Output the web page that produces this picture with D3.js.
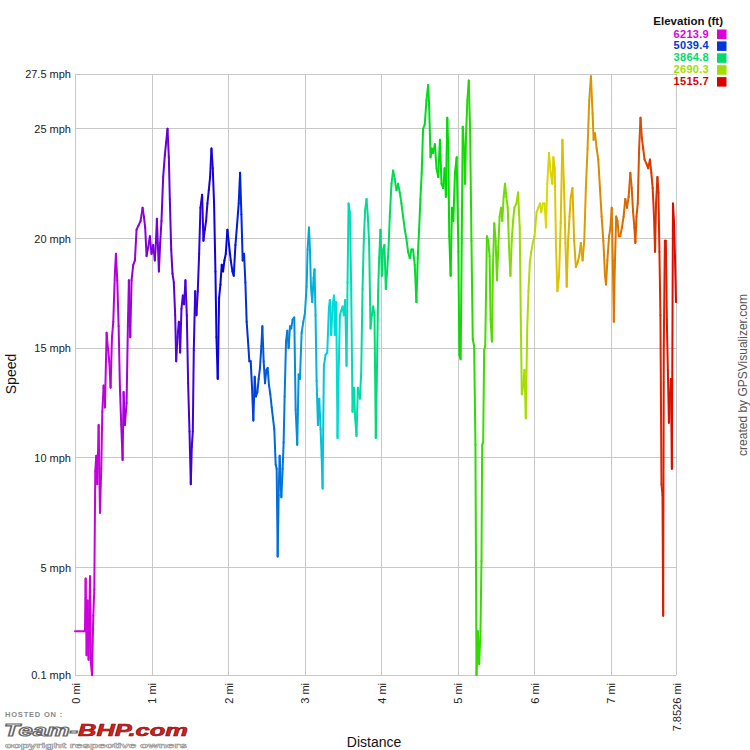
<!DOCTYPE html>
<html>
<head>
<meta charset="utf-8">
<script src="https://cdn.jsdelivr.net/npm/d3@7"></script>
<style>
  html, body { margin: 0; padding: 0; background: #fff; }
  svg { display: block; font-family: "Liberation Sans", Arial, Helvetica, sans-serif; }
</style>
</head>
<body>
<svg id="chart" width="750" height="750"></svg>
<script>
// ---------------- DATA ----------------
const distanceMi = [
  0, 0.13, 0.139, 0.152, 0.165, 0.178, 0.196, 0.209, 0.222, 0.239, 0.252, 0.265, 0.278, 0.291, 0.309, 0.326, 0.343, 0.357,
  0.374, 0.391, 0.413, 0.430, 0.448, 0.465, 0.483, 0.500, 0.522, 0.535, 0.552, 0.570, 0.587, 0.604, 0.622, 0.635, 0.652,
  0.674, 0.691, 0.704, 0.722, 0.739, 0.761, 0.783, 0.804, 0.830, 0.857, 0.883, 0.900, 0.917, 0.935, 0.957, 0.978, 1.0,
  1.022, 1.043, 1.057, 1.07, 1.083, 1.096, 1.113, 1.130, 1.152, 1.174, 1.191, 1.209, 1.226, 1.239, 1.257, 1.274, 1.291,
  1.309, 1.322, 1.339, 1.357, 1.374, 1.391, 1.409, 1.426, 1.443, 1.461, 1.478, 1.496, 1.513, 1.526, 1.539, 1.552, 1.570,
  1.587, 1.604, 1.622, 1.639, 1.661, 1.678, 1.696, 1.713, 1.730, 1.748, 1.765, 1.783, 1.800, 1.817, 1.835, 1.848, 1.865,
  1.883, 1.900, 1.917, 1.935, 1.952, 1.970, 1.991, 2.013, 2.035, 2.057, 2.074, 2.096, 2.117, 2.139, 2.157, 2.174, 2.191,
  2.209, 2.226, 2.243, 2.261, 2.278, 2.296, 2.313, 2.330, 2.348, 2.365, 2.383, 2.400, 2.417, 2.435, 2.448, 2.465, 2.483,
  2.500, 2.517, 2.535, 2.552, 2.570, 2.587, 2.604, 2.622, 2.635, 2.648, 2.661, 2.674, 2.696, 2.713, 2.726, 2.739, 2.757,
  2.774, 2.791, 2.809, 2.826, 2.843, 2.865, 2.883, 2.904, 2.922, 2.939, 2.961, 2.983, 3.004, 3.026, 3.039, 3.057, 3.070,
  3.083, 3.100, 3.117, 3.130, 3.143, 3.157, 3.174, 3.191, 3.209, 3.222, 3.235, 3.252, 3.274, 3.296, 3.317, 3.330, 3.348,
  3.365, 3.383, 3.396, 3.413, 3.430, 3.443, 3.461, 3.478, 3.496, 3.513, 3.530, 3.548, 3.561, 3.574, 3.591, 3.609, 3.626,
  3.643, 3.661, 3.678, 3.696, 3.722, 3.739, 3.757, 3.774, 3.791, 3.809, 3.826, 3.843, 3.861, 3.878, 3.896, 3.913, 3.930,
  3.943, 3.961, 3.974, 3.991, 4.009, 4.026, 4.043, 4.061, 4.078, 4.096, 4.113, 4.135, 4.157, 4.178, 4.200, 4.222, 4.243,
  4.265, 4.287, 4.309, 4.330, 4.352, 4.374, 4.396, 4.417, 4.439, 4.461, 4.478, 4.496, 4.513, 4.530, 4.548, 4.570, 4.592,
  4.614, 4.627, 4.645, 4.662, 4.680, 4.702, 4.724, 4.746, 4.768, 4.789, 4.811, 4.829, 4.846, 4.864, 4.877, 4.890, 4.908,
  4.925, 4.943, 4.965, 4.987, 5.009, 5.022, 5.039, 5.053, 5.066, 5.083, 5.096, 5.110, 5.127, 5.145, 5.162, 5.180, 5.197,
  5.215, 5.232, 5.246, 5.263, 5.281, 5.298, 5.311, 5.320, 5.333, 5.346, 5.360, 5.382, 5.399, 5.417, 5.430, 5.447, 5.461,
  5.478, 5.496, 5.513, 5.531, 5.548, 5.566, 5.583, 5.601, 5.618, 5.636, 5.654, 5.671, 5.689, 5.706, 5.724, 5.741, 5.768,
  5.789, 5.811, 5.825, 5.838, 5.855, 5.873, 5.890, 5.908, 5.925, 5.943, 5.961, 5.982, 6.004, 6.031, 6.053, 6.075, 6.092,
  6.114, 6.136, 6.154, 6.171, 6.193, 6.215, 6.237, 6.250, 6.268, 6.285, 6.303, 6.325, 6.346, 6.368, 6.390, 6.408, 6.425,
  6.443, 6.461, 6.478, 6.500, 6.522, 6.544, 6.566, 6.588, 6.610, 6.632, 6.654, 6.675, 6.697, 6.719, 6.741, 6.763, 6.776,
  6.794, 6.816, 6.837, 6.859, 6.881, 6.903, 6.925, 6.938, 6.956, 6.978, 6.996, 7.013, 7.027, 7.040, 7.053, 7.071, 7.088,
  7.106, 7.124, 7.146, 7.168, 7.190, 7.212, 7.234, 7.256, 7.274, 7.292, 7.309, 7.322, 7.336, 7.353, 7.371, 7.389, 7.406,
  7.424, 7.442, 7.468, 7.490, 7.512, 7.530, 7.548, 7.565, 7.579, 7.592, 7.610, 7.623, 7.636, 7.649, 7.663, 7.676, 7.685,
  7.693, 7.707, 7.720, 7.733, 7.746, 7.760, 7.773, 7.786, 7.799, 7.813, 7.826, 7.839, 7.8526
];
const speedMph = [
  2.1, 2.1, 4.5, 1.0, 3.5, 0.8, 4.6, 0.6, 0.1, 2.8, 4.0, 9.4, 10.1, 8.8, 11.5, 7.5, 9.5, 12.1,
  13.3, 12.3, 15.7, 15.0, 14.4, 13.2, 15.5, 16.2, 18.5, 19.3, 18.1, 16.0, 13.2, 11.5, 9.9, 13.0, 11.5,
  12.5, 16.0, 18.1, 15.5, 18.1, 18.8, 19.0, 20.4, 20.6, 20.8, 21.4, 21.0, 20.5, 19.2, 19.6, 20.1, 19.3,
  19.7, 19.0, 19.8, 20.9, 19.7, 18.5, 19.8, 20.8, 22.8, 23.8, 24.4, 25.0, 23.7, 21.8, 19.5, 18.4, 18.0,
  16.5, 14.4, 15.5, 16.2, 14.8, 16.8, 17.4, 17.0, 18.1, 16.5, 13.4, 11.2, 8.8, 10.5, 11.2, 14.9, 17.6,
  16.5, 17.6, 19.3, 21.4, 22.0, 19.9, 20.4, 20.8, 21.6, 22.2, 22.8, 24.1, 23.2, 21.6, 18.5, 15.5, 13.6,
  17.3, 17.9, 18.8, 18.5, 19.0, 19.3, 20.4, 19.7, 19.0, 18.5, 18.3, 19.7, 20.6, 21.6, 23.0, 21.1, 19.0,
  19.3, 18.0, 16.2, 15.3, 14.4, 14.4, 13.2, 11.7, 13.7, 12.8, 13.0, 13.6, 14.1, 15.1, 16.0, 14.4, 13.4,
  14.0, 14.1, 13.3, 12.9, 12.3, 11.8, 11.3, 9.7, 9.5, 5.5, 8.3, 10.1, 8.2, 9.5, 10.7, 12.8, 15.3,
  15.8, 15.0, 16.0, 15.9, 16.3, 16.4, 12.2, 10.6, 13.8, 13.6, 15.7, 16.2, 16.6, 17.8, 19.5, 20.5, 19.5,
  17.8, 17.1, 18.2, 18.6, 16.5, 13.5, 11.5, 12.7, 11.3, 10.1, 8.6, 14.2, 14.7, 14.8, 16.8, 17.2, 15.6,
  16.9, 17.4, 15.6, 17.1, 10.9, 13.6, 16.5, 16.7, 16.9, 16.5, 17.2, 14.2, 18.0, 21.6, 21.2, 17.7, 12.1,
  13.2, 11.8, 11.0, 13.2, 12.7, 13.8, 17.7, 20.0, 21.3, 21.8, 21.0, 19.8, 15.9, 16.5, 16.9, 16.5, 10.9,
  13.5, 17.6, 19.1, 20.4, 18.3, 19.5, 19.7, 17.7, 18.5, 19.5, 21.0, 22.5, 23.1, 22.7, 22.2, 22.5, 22.1,
  21.6, 21.0, 20.4, 20.0, 19.4, 19.1, 19.5, 19.5, 18.8, 17.1, 19.1, 20.4, 21.8, 23.0, 25.0, 25.2, 26.3,
  27.0, 26.1, 23.7, 24.1, 23.9, 24.3, 23.2, 22.8, 24.5, 22.5, 22.3, 23.2, 21.9, 25.5, 24.1, 20.1, 18.3,
  21.4, 20.8, 23.0, 23.7, 19.4, 14.7, 14.5, 19.8, 25.1, 24.1, 22.5, 24.8, 26.3, 27.2, 25.0, 19.9, 15.4,
  15.1, 10.6, 0.1, 2.1, 0.6, 2.1, 5.3, 10.6, 10.7, 14.9, 15.1, 20.1, 19.9, 19.2, 16.3, 15.3, 18.7,
  20.7, 19.9, 18.1, 19.6, 21.0, 21.4, 20.8, 21.9, 22.5, 21.9, 21.4, 19.6, 18.3, 19.9, 20.8, 21.4, 21.6,
  22.1, 20.5, 16.2, 12.9, 13.3, 14.0, 11.8, 15.8, 17.6, 18.9, 19.4, 19.8, 20.1, 21.2, 21.4, 21.6, 21.2,
  21.6, 21.6, 20.5, 22.5, 23.9, 23.0, 22.5, 23.7, 23.2, 19.6, 17.6, 18.3, 20.7, 24.5, 22.3, 19.8, 17.8,
  19.9, 21.0, 21.9, 22.3, 19.9, 18.7, 18.9, 19.2, 19.8, 19.0, 19.9, 22.3, 24.1, 26.3, 27.4, 25.7, 24.5,
  24.8, 24.1, 23.6, 22.3, 21.0, 19.9, 18.3, 17.9, 19.0, 20.1, 20.5, 21.4, 19.0, 16.2, 18.7, 21.0, 20.8,
  20.1, 20.1, 20.5, 21.0, 21.8, 21.4, 21.9, 23.0, 22.3, 21.2, 20.5, 19.8, 21.0, 21.6, 24.1, 25.5, 24.6,
  24.1, 23.6, 23.4, 23.2, 23.6, 23.0, 22.3, 21.0, 19.4, 21.6, 22.8, 22.1, 19.4, 16.5, 8.8, 8.3, 2.8,
  15.1, 19.9, 19.9, 16.3, 14.0, 11.6, 12.9, 13.6, 9.5, 21.6, 20.8, 19.2, 17.1
];

const elevDistMi = [0, 0.5, 1.0, 1.5, 2.0, 2.5, 2.8, 3.2, 3.6, 4.0, 4.5, 5.0, 5.3, 5.8, 6.2, 6.7, 7.2, 7.6, 7.8526];
const elevFt     = [6213.9, 6057, 5822, 5556, 5243, 4883, 4726, 4460, 4178, 3865, 3551, 3364, 3160, 2737, 2424, 2173, 1954, 1704, 1540];

const legendValues = [6213.9, 5039.4, 3864.8, 2690.3, 1515.7];
const yTickValues = [0.1, 5, 10, 15, 20, 25, 27.5];
const xTickValues = [0, 1, 2, 3, 4, 5, 6, 7, 7.8526];

// ---------------- CHART ----------------
const svg = d3.select("#chart");
const M = { left: 75, right: 676, top: 74, bottom: 675 };

const x = d3.scaleLinear().domain([0, 7.8526]).range([M.left, M.right]);
const y = d3.scaleLinear().domain([0.1, 27.5]).range([M.bottom, M.top]);

const elevAt = d3.scaleLinear().domain(elevDistMi).range(elevFt).clamp(true);
const hueScale = d3.scaleLinear().domain([1515.7, 6213.9]).range([0, 300]).clamp(true);
const colorOf = e => d3.hsl(hueScale(e), 1, 0.43).formatHex();

// grid
const grid = svg.append("g");
grid.selectAll(".gy").data(yTickValues).join("line")
  .attr("x1", M.left).attr("x2", M.right)
  .attr("y1", d => y(d)).attr("y2", d => y(d))
  .attr("stroke", "#c8c8c8").attr("stroke-width", 1).attr("shape-rendering", "crispEdges");
grid.selectAll(".gx").data(xTickValues).join("line")
  .attr("x1", d => Math.round(x(d))).attr("x2", d => Math.round(x(d)))
  .attr("y1", M.top).attr("y2", M.bottom)
  .attr("stroke", "#c8c8c8").attr("stroke-width", 1).attr("shape-rendering", "crispEdges");

// y axis labels
const yAxis = d3.axisLeft(y).tickValues(yTickValues).tickSize(0).tickPadding(4)
  .tickFormat(d => d + " mph");
svg.append("g").attr("transform", `translate(${M.left},0)`).call(yAxis)
  .call(g => g.select(".domain").remove())
  .call(g => g.selectAll("text").attr("font-size", 11).attr("fill", "#222")
        .attr("font-family", "'Liberation Sans', Arial, sans-serif"));

// x axis labels (rotated)
const xAxis = d3.axisBottom(x).tickValues(xTickValues).tickSize(0).tickPadding(0)
  .tickFormat(d => d + " mi");
svg.append("g").attr("transform", `translate(0,${M.bottom})`).call(xAxis)
  .call(g => g.select(".domain").remove())
  .call(g => g.selectAll("text")
    .attr("font-size", 11).attr("fill", "#222")
    .attr("font-family", "'Liberation Sans', Arial, sans-serif")
    .attr("text-anchor", "end")
    .attr("dy", null)
    .attr("y", 0)
    .attr("transform", "translate(4,8) rotate(-90)"));

// speed line, segment by segment coloured by elevation
const pts = distanceMi.map((d, i) => ({ d, s: speedMph[i] }));
const segs = d3.pairs(pts);
svg.append("g").selectAll("line").data(segs).join("line")
  .attr("x1", p => x(p[0].d)).attr("y1", p => y(p[0].s))
  .attr("x2", p => x(p[1].d)).attr("y2", p => y(p[1].s))
  .attr("stroke", p => colorOf(elevAt((p[0].d + p[1].d) / 2)))
  .attr("stroke-width", 2)
  .attr("stroke-linecap", "round");

// axis titles
svg.append("text").attr("x", 374).attr("y", 747).attr("text-anchor", "middle")
  .attr("font-size", 14).attr("fill", "#111").text("Distance");
svg.append("text").attr("transform", "translate(16,374) rotate(-90)").attr("text-anchor", "middle")
  .attr("font-size", 14).attr("fill", "#111").text("Speed");

// credit
svg.append("text").attr("transform", "translate(747,375) rotate(-90)").attr("text-anchor", "middle")
  .attr("font-size", 12).attr("fill", "#555").text("created by GPSVisualizer.com");

// legend
const lg = svg.append("g");
lg.append("text").attr("x", 723).attr("y", 25).attr("text-anchor", "end")
  .attr("font-size", 11.5).attr("font-weight", "bold").attr("fill", "#111").text("Elevation (ft)");
lg.selectAll(".lv").data(legendValues).join("text")
  .attr("x", 709).attr("y", (d, i) => 37.5 + i * 11.9).attr("text-anchor", "end")
  .attr("font-size", 11).attr("font-weight", "bold").attr("letter-spacing", 0.3)
  .attr("fill", d => colorOf(d)).text(d => d.toFixed(1));
lg.selectAll(".lr").data(legendValues).join("rect")
  .attr("x", 717).attr("y", (d, i) => 29.5 + i * 11.9).attr("width", 9.5).attr("height", 9.5)
  .attr("fill", d => colorOf(d));

// watermark
const wm = svg.append("g");
wm.append("text").attr("x", 5).attr("y", 717).attr("font-size", 7.5).attr("font-weight", "bold")
  .attr("letter-spacing", 0.8).attr("fill", "#888").text("HOSTED ON :");
const logo = wm.append("text").attr("x", 4).attr("y", 736).attr("font-size", 16)
  .attr("font-weight", "bold").attr("font-style", "italic")
  .attr("textLength", 184).attr("lengthAdjust", "spacingAndGlyphs");
logo.append("tspan").attr("fill", "#fff").attr("stroke", "#666").attr("stroke-width", 1.1).text("Team-");
logo.append("tspan").attr("fill", "#d42020").attr("stroke", "#801010").attr("stroke-width", 0.6).text("BHP.com");
wm.append("text").attr("x", 5).attr("y", 748).attr("font-size", 8).attr("font-weight", "bold")
  .attr("textLength", 182).attr("lengthAdjust", "spacingAndGlyphs")
  .attr("fill", "#fff").attr("stroke", "#999").attr("stroke-width", 0.6)
  .text("copyright respective owners");
</script>
</body>
</html>
